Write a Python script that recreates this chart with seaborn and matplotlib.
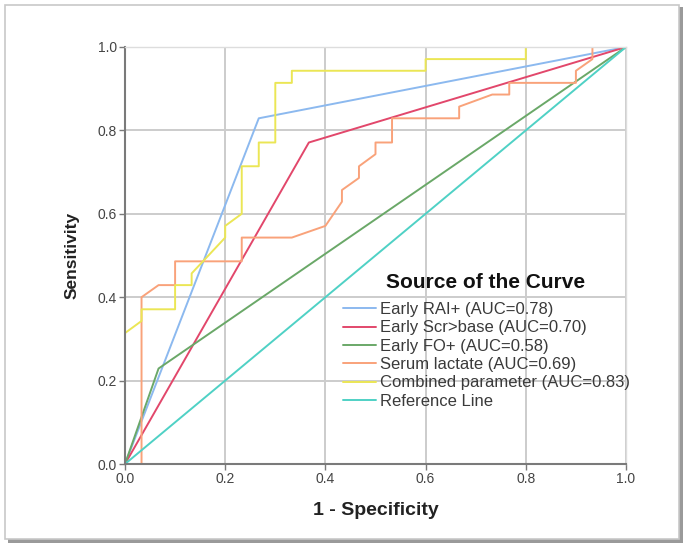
import matplotlib
matplotlib.use("Agg")
import matplotlib.pyplot as plt
from matplotlib.patches import Rectangle
import seaborn as sns
import pandas as pd

# ---- data ----
curve_names = [
    "Early RAI+ (AUC=0.78)",
    "Early Scr>base (AUC=0.70)",
    "Early FO+ (AUC=0.58)",
    "Serum lactate (AUC=0.69)",
    "Combined parameter (AUC=0.83)",
    "Reference Line",
]
colors = ["#8cb9ef", "#e2476b", "#6aa868", "#f9a27a", "#ebe655", "#4fd1c5"]

rai_fpr = [0.0, 0.267, 1.0]
rai_tpr = [0.0, 0.829, 1.0]

scr_fpr = [0.0, 0.367, 1.0]
scr_tpr = [0.0, 0.771, 1.0]

fo_fpr = [0.0, 0.067, 1.0]
fo_tpr = [0.0, 0.229, 1.0]

lac_fpr = [0.0, 0.033, 0.033, 0.067, 0.1, 0.1, 0.233, 0.233, 0.333, 0.4, 0.433, 0.433,
           0.467, 0.467, 0.5, 0.5, 0.533, 0.533, 0.667, 0.667, 0.733, 0.767, 0.767,
           0.9, 0.9, 0.933, 0.933, 1.0]
lac_tpr = [0.0, 0.0, 0.4, 0.429, 0.429, 0.486, 0.486, 0.543, 0.543, 0.571, 0.629, 0.657,
           0.686, 0.714, 0.743, 0.771, 0.771, 0.829, 0.829, 0.857, 0.886, 0.886, 0.914,
           0.914, 0.943, 0.971, 1.0, 1.0]

comb_fpr = [0.0, 0.0, 0.033, 0.033, 0.1, 0.1, 0.133, 0.133, 0.2, 0.2, 0.233, 0.233,
            0.267, 0.267, 0.3, 0.3, 0.333, 0.333, 0.6, 0.6, 0.8, 0.8, 1.0]
comb_tpr = [0.0, 0.314, 0.343, 0.371, 0.371, 0.429, 0.429, 0.457, 0.543, 0.571, 0.6, 0.714,
            0.714, 0.771, 0.771, 0.914, 0.914, 0.943, 0.943, 0.971, 0.971, 1.0, 1.0]

ref_fpr = [0.0, 1.0]
ref_tpr = [0.0, 1.0]

x_ticks = [0.0, 0.2, 0.4, 0.6, 0.8, 1.0]
y_ticks = [0.0, 0.2, 0.4, 0.6, 0.8, 1.0]
x_label = "1 - Specificity"
y_label = "Sensitivity"
legend_title = "Source of the Curve"

# ---- build long table ----
series = [(rai_fpr, rai_tpr), (scr_fpr, scr_tpr), (fo_fpr, fo_tpr),
          (lac_fpr, lac_tpr), (comb_fpr, comb_tpr), (ref_fpr, ref_tpr)]
rows = []
for name, (xs, ys) in zip(curve_names, series):
    for i, (xv, yv) in enumerate(zip(xs, ys)):
        rows.append({"curve": name, "order": i, "fpr": xv, "tpr": yv})
df = pd.DataFrame(rows)

sns.set_theme(style="white")
plt.rcParams["font.family"] = ["Liberation Sans", "DejaVu Sans"]

W, H = 685, 547
fig = plt.figure(figsize=(W / 100, H / 100), dpi=100)

# outer frame with shadow
fig.patches.append(Rectangle((8 / W, 1 - 543 / H), 675 / W, 536 / H, transform=fig.transFigure,
                             facecolor="#9a9a9a", edgecolor="none", zorder=0))
fig.patches.append(Rectangle((5 / W, 1 - 539 / H), 674 / W, 534 / H, transform=fig.transFigure,
                             facecolor="white", edgecolor="#c8c8c8", linewidth=1.2, zorder=1))

ax = fig.add_axes([125 / W, 1 - 464 / H, 501 / W, 417 / H])
ax.set_zorder(2)
ax.patch.set_alpha(0)

sns.lineplot(data=df, x="fpr", y="tpr", hue="curve", hue_order=curve_names,
             palette=colors, sort=False, estimator=None, units="curve",
             linewidth=1.4, ax=ax, legend=False)

ax.set_xlim(0, 1)
ax.set_ylim(0, 1)
ax.set_xticks(x_ticks)
ax.set_yticks(y_ticks)
ax.set_xticklabels([f"{v:.1f}" for v in x_ticks])
ax.set_yticklabels([f"{v:.1f}" for v in y_ticks])
ax.grid(True, color="#cccccc", linewidth=1.4)
ax.set_axisbelow(True)
for s in ["top", "right"]:
    ax.spines[s].set_color("#dddddd")
    ax.spines[s].set_linewidth(1.0)
for s in ["left", "bottom"]:
    ax.spines[s].set_color("#7a7a7a")
    ax.spines[s].set_linewidth(1.5)
ax.tick_params(axis="both", which="both", length=4, width=1.0, color="#7a7a7a",
               labelsize=10, labelcolor="#444444", pad=2, direction="out",
               bottom=True, left=True)

ax.set_xlabel(x_label, fontsize=14, fontweight="bold", color="#222222", labelpad=11)
ax.set_ylabel(y_label, fontsize=12.5, fontweight="bold", color="#222222", labelpad=13)

# legend title as separate centred text
fig.text(485.5 / W, 1 - 282 / H, legend_title, ha="center", va="center",
         fontsize=15, fontweight="bold", color="#111111", zorder=5)

handles = [plt.Line2D([0], [0], color=c, linewidth=1.4) for c in colors]
leg = ax.legend(handles, curve_names, loc="upper left",
                bbox_to_anchor=(343 / W, 1 - 302 / H), bbox_transform=fig.transFigure,
                frameon=False, fontsize=12,
                handlelength=1.95, handletextpad=0.3, labelspacing=0.2,
                borderpad=0, borderaxespad=0)
for t in leg.get_texts():
    t.set_color("#3a3a3a")

fig.savefig("out.png", dpi=100)
